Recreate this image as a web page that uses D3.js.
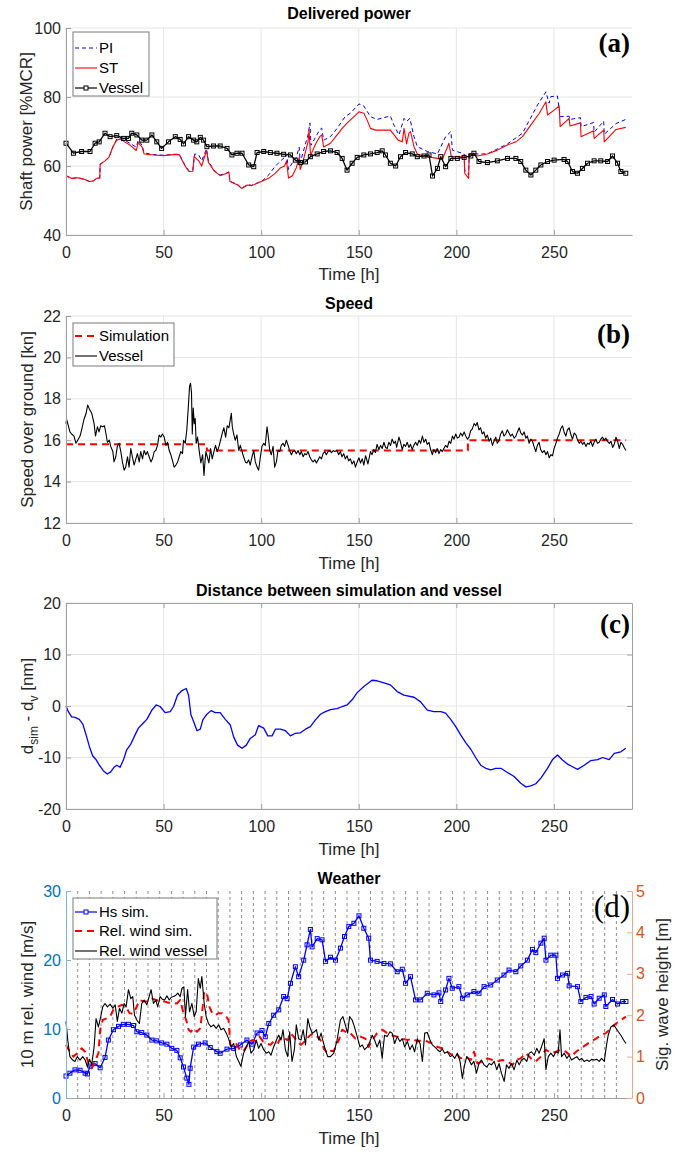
<!DOCTYPE html>
<meta charset="utf-8">
<style>
    body { margin: 0; background: #fff; }
    svg { font-family: "Liberation Sans", Arial, sans-serif; }
    .tick text { font-size: 16px; }
    .grid line { stroke: #e6e6e6; stroke-width: 1; }
    .title { font-weight: bold; font-size: 16px; fill: #000; text-anchor: middle; }
    .label { font-size: 17px; fill: #262626; text-anchor: middle; }
    .letter { font-family: "Liberation Serif", "DejaVu Serif", serif; font-size: 27px; font-weight: bold; text-anchor: end; }
    .legend text { font-size: 15px; fill: #000; }
</style>
<svg width="674" height="1153"></svg>
<script src="https://d3js.org/d3.v7.min.js"></script>
<script>

    // ---- data: [time h, value] ----
    var xTicks = [0, 50, 100, 150, 200, 250];

    var powerPI = [[0,57.2],[3,56.4],[6,56.6],[9,56.2],[12,55.5],[14,55.7],[16,56.5],[17.3,56.5],[17.5,60.5],[20,61.5],[22,62.5],[24,65.5],[26,67.8],[28,68],[30,67.5],[33,66.5],[36,65.5],[37,67.5],[39,66],[40,63.8],[45,63.3],[50,63.1],[55,63.4],[58,63.4],[61,60.2],[63,58.6],[65,59],[66,63.5],[68,63.2],[69.5,61.5],[72,65],[73,61.3],[76,58.7],[79,57.4],[82,57.9],[83.5,58.3],[84,55.6],[88,54.6],[90,53.6],[93,54.6],[95,54.4],[98,55.1],[101,55.9],[104,57.5],[107,59.8],[110,61.5],[112,62.5],[113,63.5],[114,59],[116,61],[118,62.5],[119.5,65.5],[120,61],[121.5,64],[124,69],[125,72.5],[125.5,66],[128,68.5],[130,70.5],[131,71],[132,67.5],[135.5,68.5],[138.9,70.9],[143,74.3],[145.7,75.3],[150.1,78],[152.6,77.4],[156,74.3],[159.4,73.5],[166.2,74.5],[168,71.9],[170.6,69],[173.2,73.8],[174.5,72.9],[176.2,73.8],[178.3,68.5],[180,65.6],[185.1,64.2],[190.3,63.5],[194.5,68.5],[197.2,70],[198,64.6],[204,63.5],[204.3,58.8],[206.3,57.4],[206.6,63.5],[215.9,63.5],[226.2,66.4],[233.9,69.5],[241.6,77.7],[245.9,81.5],[247.5,78.2],[248.4,80.1],[251.8,80.3],[253.2,74.3],[257.8,74.4],[258.2,73.5],[263.6,74],[263.9,71.4],[270.3,72.6],[270.6,69.8],[275.5,73],[275.8,69.2],[281.8,72.3],[286.8,73.5]];

    var powerST = [[0,57.2],[3,56.4],[6,56.6],[9,56.2],[12,55.5],[14,55.7],[16,56.5],[17.3,56.5],[17.5,60.5],[20,61.5],[22,62.5],[24,65.5],[26,67.5],[28,67.8],[30,67],[33,66],[36,64.5],[37,66.8],[39,65.5],[40,63.5],[45,63.2],[50,63],[55,63.3],[58,63.3],[61,60],[63,58.4],[65,58.5],[65.6,62.8],[68,61.5],[69.5,60],[72,64.5],[73,61],[76,58.5],[79,57.2],[82,57.8],[83.5,58.2],[84,55.5],[88,54.5],[90,53.5],[93,54.5],[95,54.3],[98,55],[101,55.7],[104,56.5],[107,57.8],[110,59.5],[112,60],[113,61.5],[114,56.5],[116,57.2],[118,59.5],[119.5,62.5],[120,59],[121.5,61.5],[124,67],[124.5,70.5],[125.3,63],[128,66.5],[130,68.5],[131,69],[132,65.5],[135.5,66.6],[138.9,69],[141.5,70.9],[144,72.4],[146.6,73.8],[150.1,75.7],[152.6,75.3],[154.3,73.3],[156,70.9],[158.6,70.4],[162.9,70.4],[166.2,70.4],[170.2,67.5],[172.3,67],[173.2,70.9],[174.5,66.4],[175.7,69.5],[176.5,70],[178.3,65.6],[180,63.5],[185.1,62.7],[190.3,62.2],[192.8,61.9],[194.5,64.2],[196.2,66.6],[197.4,62.7],[204,62.7],[204.3,57.9],[206.3,56.4],[206.6,63.5],[210.8,62.9],[215.9,63.5],[221,64.6],[226.2,66.1],[230.5,67],[233.9,68.5],[238.2,71.9],[242.5,75.3],[245.9,78.6],[246.7,74.8],[250.1,76.2],[252.7,77.4],[253.2,71.4],[257.8,73.8],[258.2,71.6],[263.6,72.5],[263.9,68.5],[270.3,70.2],[270.6,68],[275.5,70.4],[275.8,67],[281.8,70.6],[286.8,71.2]];

    var powerVessel = [[0,66.6],[3.8,63.7],[8,64.2],[12.3,64.2],[14.9,66.6],[17,67],[20,69.5],[22.6,68.5],[26,68.8],[29.4,68],[32,68],[33.7,69.5],[36.3,69],[38.8,67.5],[41.4,67.5],[44,69],[46.5,67],[49,65.1],[52.5,67],[56,68.5],[58.5,67.7],[60.2,66.4],[62.8,68.5],[65.4,67.5],[67,67],[68.8,68.3],[70.5,67.5],[72.2,65.6],[75.6,65.8],[79,65.8],[82.5,65.1],[85,63.2],[87.6,63.7],[90.2,63.7],[93.6,60.3],[96.2,59.8],[97.9,63.9],[101.3,64.2],[104.7,63.9],[108.1,63.7],[111.5,63.4],[115,63.2],[117.5,61.7],[120.1,61],[122.7,61.2],[125.2,62.7],[128.7,63.5],[132,64.2],[135.5,64.4],[138.9,63.9],[141.5,62.2],[144,58.8],[146.6,60.8],[149.2,62.5],[152.6,63.2],[156,63.5],[159.4,63.9],[162,64.4],[163.7,63.2],[166.2,60.8],[168.9,60],[171.4,62.7],[174,63.9],[177.4,63.5],[180,62.7],[183.4,62.9],[186,63.2],[187.8,57.1],[190.3,59.3],[192,62.7],[194.5,59.8],[197.2,62.2],[200.5,62.2],[204,62.5],[207.4,62.9],[209,63.7],[211.6,61.3],[215.9,61],[221,61.5],[226.2,62.2],[230.5,62.2],[233,61.3],[235.6,58.8],[238.2,57.4],[240.7,58.8],[243.3,60.3],[246.7,61.3],[250.1,61.7],[255.2,61.9],[257,61.3],[259.5,58.4],[262.1,57.9],[264.6,59.3],[267.2,60.8],[270.6,61.5],[274,61.5],[277.5,61.3],[280,62.9],[282.6,60.8],[284.3,58.4],[286.8,57.9]];

    var speedSim = [[0,15.8],[72.2,15.8],[72.2,15.5],[205.9,15.5],[205.9,16],[287,16]];

    var speedVessel = [[0,16.8],[0.3,17],[1.2,16.7],[2,16.4],[2.9,16.3],[4.1,16.2],[5.1,15.85],[6,16],[7.2,16.2],[8,16.5],[9.2,17],[10.3,17.3],[11.1,17.7],[12,17.5],[13.2,17.3],[14.4,16.8],[15.1,16.2],[16.1,16.65],[16.9,16.4],[17.8,16.7],[18.8,16.65],[19.7,16.7],[20.5,16.3],[21.2,15.9],[22.2,16],[22.9,15.7],[24,15.45],[24.6,14.95],[25.5,15.2],[26.3,15.7],[27.2,15.85],[28.1,15.45],[28.9,14.95],[29.8,14.55],[30.6,14.7],[31.5,15.2],[32.3,14.7],[33.2,15.6],[34,15.2],[34.9,14.8],[35.8,15.1],[36.6,15.35],[37.5,14.95],[38.3,15.45],[39.2,15.1],[40,15.5],[40.9,15.3],[41.7,15.45],[42.6,15.2],[43.5,14.95],[44.3,15.1],[45.2,15.45],[46,15.5],[46.9,15.75],[47.7,16.25],[48.6,16.15],[49.4,16.3],[50.3,16.15],[51.2,15.75],[52,15.9],[52.9,15.5],[53.7,15.3],[54.6,15],[55.4,14.7],[56.3,14.8],[57.2,14.95],[58,15.2],[58.8,15.45],[59.7,15.35],[60.2,16],[61.1,15.85],[61.9,16.5],[62.8,17.8],[63.3,18.6],[63.8,18.75],[64.3,18.3],[64.7,16.3],[65.2,17.55],[65.7,16.8],[66.2,17.05],[66.7,15.85],[67.4,16.15],[68.3,15.45],[69.1,14.9],[70,15.3],[70.7,14.3],[71.2,14.95],[71.7,15.45],[72.4,15.2],[73.2,14.9],[74.1,15.6],[74.9,15.1],[75.8,15.45],[76.6,15.75],[77.5,15.45],[78.4,15.7],[79.2,16],[80.1,16.35],[80.9,16.6],[81.8,16.15],[82.6,16.7],[83.5,16.6],[84,16.9],[84.7,17.3],[85.2,16.65],[85.9,16.3],[86.7,16],[87.6,16.25],[88.5,15.5],[89.3,15.75],[90.2,15.45],[91,15.2],[91.9,14.95],[92.7,14.9],[93.6,15.05],[94.4,14.8],[95.3,15.2],[96.2,15.5],[97,14.95],[97.9,14.7],[98.7,14.55],[99.6,15.2],[100.4,15.7],[101.3,15.85],[102.1,15.75],[103,16.65],[103.5,16.3],[104.4,15.5],[105.2,15.3],[106.1,15.7],[106.9,14.7],[107.8,14.95],[108.6,15.5],[109.5,15.45],[110.3,15.75],[111.2,15.85],[112,15.7],[112.9,16],[113.8,15.75],[114.6,15.5],[115.5,15.3],[116.3,15.45],[117.2,15.5],[118,15.35],[118.9,15.5],[119.8,15.3],[120.6,15.45],[121.5,15.2],[122.3,15.35],[123.2,15.3],[124,15.45],[124.9,15.2],[125.7,15.05],[126.6,14.95],[127.5,15.05],[128.3,14.9],[129.2,15.05],[130,15.2],[130.9,15.1],[131.7,15.35],[132.6,15.45],[133.4,15.3],[134.3,15.45],[135.2,15.5],[136,15.4],[136.9,15.5],[137.7,15.45],[138.9,15.5],[139.7,15.3],[140.6,15.45],[141.4,15.2],[142.3,15.35],[143.1,15.1],[144,15.25],[144.8,15],[145.7,15.1],[146.6,14.85],[147.5,15],[148.3,14.7],[149.2,14.95],[150.1,15.15],[150.9,14.9],[151.8,15.1],[152.6,14.8],[153.5,15.25],[154.7,14.85],[156,15.45],[156.8,15.3],[157.7,15.55],[158.5,15.4],[159.4,15.8],[160.3,15.55],[161.2,15.75],[162,15.6],[162.9,15.9],[163.7,15.65],[164.6,15.6],[165.4,15.9],[166.3,15.75],[167.1,16.05],[168,15.85],[168.8,15.95],[169.4,15.65],[170.6,16.15],[171.4,15.9],[172.3,15.55],[173.1,15.8],[174,15.7],[174.8,15.9],[175.7,15.65],[176.5,15.8],[177.4,15.55],[178.2,15.75],[179.1,15.9],[180,15.75],[180.9,16],[181.7,15.85],[182.6,16.2],[183.4,15.9],[184.3,16.05],[185.1,15.8],[186,15.9],[186.8,15.55],[187.7,15.3],[188.5,15.55],[189.4,15.4],[190.2,15.6],[191.1,15.35],[192,15.55],[192.8,15.45],[193.6,15.6],[194.5,15.75],[195.4,15.65],[196.3,15.95],[197.1,15.85],[198,16.2],[198.8,16.05],[199.7,16.3],[200.5,16.1],[201.4,16.15],[202.2,16.35],[203.1,16.2],[204,16.4],[204.8,16.2],[205.7,16.05],[206.5,16.15],[207.3,16.45],[208.2,16.55],[209.1,16.8],[209.9,16.7],[210.7,16.85],[211.6,16.5],[212.4,16.6],[213.3,16.3],[214.1,16.4],[215,16.1],[215.9,16.25],[216.8,15.95],[217.6,16.1],[218.5,15.75],[219.3,15.95],[220.2,16.15],[221,15.85],[221.9,16],[222.7,16.3],[223.6,16.45],[224.4,16.2],[225.3,16.3],[226.1,16.5],[227,16.35],[227.8,16.2],[228.7,16.3],[229.6,16.1],[230.5,16.2],[231.3,16.4],[232.2,16.6],[233,16.35],[233.9,16.25],[234.7,16.4],[235.6,16.1],[236.4,16.2],[237.3,15.85],[238.1,16.05],[239,15.95],[239.8,15.7],[240.7,15.45],[241.5,15.75],[242.4,15.9],[243.2,15.55],[244.1,15.4],[245,15.5],[245.9,15.3],[246.7,15.45],[247.6,15.15],[248.4,15.3],[249.3,15.25],[250.1,15.6],[251,15.85],[251.8,16.1],[252.7,16.3],[253.5,16.55],[254.4,16.7],[255.2,16.4],[256.1,16.2],[256.9,16.5],[257.8,16.6],[258.6,16.3],[259.5,16.05],[260.4,16.35],[261.3,16.25],[262.1,16],[263,15.85],[263.8,15.95],[264.7,15.8],[265.5,15.9],[266.4,15.7],[267.2,15.85],[268.1,15.8],[268.9,15.95],[269.8,15.7],[270.6,15.9],[271.5,16.05],[272.3,15.85],[273.2,15.9],[274,16.05],[274.9,16.15],[275.7,16],[276.6,16.1],[277.4,15.95],[278.4,15.85],[279.2,15.95],[280.1,15.65],[280.9,15.8],[281.8,16.15],[282.6,15.95],[283.5,15.6],[284.3,15.9],[285.2,15.8],[286,15.65],[286.9,15.5]];

    var distance = [[0,0],[1.2,-1.1],[2.9,-2.1],[4.6,-2.2],[6.8,-2.6],[8.6,-3.5],[10.3,-5.6],[12,-7.9],[13.7,-9.7],[15.4,-10.4],[17.1,-11.5],[19.2,-12.6],[21.2,-13.2],[22.9,-12.8],[24.6,-11.9],[26,-11.5],[27.7,-11.9],[29.4,-10.5],[31.1,-8.5],[33.2,-7.4],[34.9,-6],[37.1,-4.3],[39.4,-3.4],[41.4,-2.6],[44,-0.8],[46.2,0.2],[48.2,-0.1],[50.8,-1.3],[53.4,-1.1],[55.1,-0.1],[57.1,2.1],[59.4,3],[61.6,3.4],[62.8,2.1],[64,-1.7],[65.4,-3],[67.1,-4.8],[68.8,-4.5],[70.1,-2.7],[72.2,-1.6],[74.3,-0.9],[76.5,-1.3],[79,-1.3],[81.6,-2.6],[84.2,-3.7],[85.9,-6],[87.9,-7.6],[90.2,-8.2],[92.4,-7.6],[94.4,-6.3],[97,-5.6],[98.7,-3.8],[101.3,-4.3],[103.4,-5.8],[105.6,-5.8],[107.3,-4.5],[109.8,-4.5],[112.4,-4.8],[115,-5.8],[117.5,-5.3],[120.1,-5.2],[122.7,-4.5],[125.2,-4],[127.8,-2.7],[130.4,-1.6],[132.9,-1.1],[135.5,-0.7],[138.9,-0.5],[141.5,-0.1],[144,0.2],[146.6,1.2],[149.2,2.6],[152.6,3.8],[155.1,4.5],[156.8,5],[159.4,4.9],[162.9,4.5],[166.2,4.1],[169.7,2.8],[173.1,2.1],[178.3,1.7],[181.7,0.8],[185.1,-0.8],[188.5,-1.1],[192,-1.1],[194.5,-1.4],[197.1,-2.6],[199.7,-4],[202.2,-5.6],[204.8,-7.1],[207.4,-8.4],[209.9,-10],[212.5,-11.5],[215.1,-12.1],[217.6,-12.4],[220.2,-12.1],[222.8,-12.1],[226.2,-12.9],[229.6,-13.7],[233,-15],[235.6,-15.7],[238.2,-15.5],[240.7,-15.1],[243.3,-14],[246.7,-12.1],[249.3,-10.4],[251.8,-9.5],[254.4,-10.5],[257,-11.3],[259.5,-11.8],[262.1,-12.3],[265.5,-11.5],[268.9,-10.6],[272.4,-10.4],[274.9,-10],[278.3,-10.4],[280.9,-9.2],[284.3,-8.9],[286.8,-8.2]];

    var hsSim = [[0,0.53],[2,0.6],[4.6,0.68],[7.2,0.67],[9.8,0.6],[11,0.58],[12.3,0.77],[14.9,0.83],[17.5,0.73],[20,0.98],[21.7,1.4],[24.3,1.65],[26.9,1.73],[29.4,1.78],[32,1.78],[34.6,1.75],[36.3,1.6],[38.8,1.58],[41.4,1.52],[44,1.4],[46.5,1.38],[49,1.33],[51.7,1.3],[54.2,1.2],[56.8,1.15],[58.5,0.97],[60.2,0.75],[61.9,0.48],[63,0.33],[63.6,0.72],[65.4,1.23],[67.9,1.3],[71.3,1.33],[73.9,1.22],[77.3,1.12],[79,1.08],[82.5,1.18],[85.9,1.2],[89.3,1.28],[92.7,1.4],[95.3,1.3],[97.9,1.57],[100.4,1.63],[102.1,1.48],[103.9,1.8],[106.4,2],[109,2.13],[111.5,2.45],[113.3,2.4],[115,2.77],[117.5,3.17],[119.2,2.93],[121.8,3.33],[123.5,3.7],[125.2,4.07],[126.1,3.65],[128.7,3.85],[131.2,3.82],[133,3.3],[135.5,3.4],[138.1,3.33],[140.6,3.62],[142.7,3.9],[144.9,4.14],[147.5,4.22],[150.1,4.4],[152.6,4.1],[155.1,3.86],[156,3.33],[159.4,3.3],[162.9,3.25],[166.2,3.24],[169.7,3.05],[172.3,3.11],[174,2.77],[176.5,2.93],[179.1,2.37],[181.7,2.37],[185.1,2.53],[188.5,2.49],[191.1,2.54],[192,2.33],[194.5,2.61],[196.2,2.89],[197.9,2.65],[201.3,2.69],[203.1,2.41],[205.6,2.49],[209,2.57],[211.6,2.53],[214.2,2.69],[217.6,2.73],[221,2.85],[224.4,2.97],[227,3.09],[230.5,3.05],[233,3.19],[236.4,3.33],[239,3.59],[240.7,3.51],[243.3,3.74],[245,3.86],[245.9,3.33],[248.4,3.45],[251,3.45],[251.8,2.89],[254.4,2.97],[257,3.01],[257.8,2.71],[262.1,2.69],[263.8,2.33],[266.4,2.43],[269,2.45],[270.6,2.27],[273.2,2.41],[275.8,2.49],[276.6,2.21],[280,2.38],[282.6,2.27],[285.2,2.33],[286.9,2.33]];

    var windSim = [[0,7.7],[2,6.7],[3.8,6],[5.8,6.5],[8,7.2],[9.8,6.7],[11.5,5],[13.2,4.3],[14.9,5.3],[16.6,6.5],[17.5,9.9],[18.8,11.3],[20.5,11.5],[22.6,11.8],[24.3,12.8],[26.3,13.2],[28.6,13.5],[30.8,13.2],[32.5,12.3],[34.2,12.2],[35.9,13],[37.6,14.2],[39.7,14],[41.7,14],[44,14.4],[46.2,14.2],[48.2,14],[50.3,14],[52.5,13.8],[54.7,13.8],[56.8,13.7],[58.5,14.2],[60.2,12.3],[61.6,11.3],[62.8,9.9],[64,9.6],[65.4,10.1],[67.1,9.6],[68.8,10.1],[69.6,12],[70.8,15.4],[72.2,15.2],[73.5,13.2],[74.9,12.3],[76.5,12],[78.2,12.3],[79.9,12.3],[81.6,12],[83.3,11.3],[84.2,7.7],[85.6,7.4],[87.3,7.8],[89,7],[90.7,6.7],[92.4,7.4],[94.1,8.2],[95.8,8.4],[97.5,8.2],[99.2,8.9],[100.9,8.2],[102.6,7.9],[104.7,7.7],[106.4,8.2],[108.5,7.9],[110.2,8.9],[111.9,8.6],[113.6,8.4],[115,9.4],[116.7,8.9],[118.4,8.2],[120.4,7.7],[122.2,8.2],[124.4,8.9],[126.6,9.4],[128.7,8.9],[130.4,8.4],[132.1,7.2],[133.8,6.5],[135.5,6.8],[137.2,6.8],[138.9,7.9],[139.8,8.4],[141.5,9.9],[143.1,9.6],[145.7,9.4],[148.3,8.6],[150.8,8.9],[153.4,8.6],[155.1,7.4],[156.9,8.4],[159.4,9.4],[162,9.9],[164.6,9.4],[167.1,9.1],[169.7,8.9],[172.3,8.6],[174.9,8.4],[177.4,8.6],[180,8.2],[182.6,8.4],[185.1,8.2],[187.7,7.9],[190.3,7.4],[192.8,7.2],[195.4,6.7],[198,6.2],[199.7,6.5],[202.2,5.75],[204.8,6],[207.4,5.5],[209,6.7],[210.8,5],[213.3,5.3],[215.9,5.75],[218.5,5.5],[221,5.3],[223.6,5.5],[226.2,5.3],[228.8,4.8],[230.5,5.5],[233,5.75],[235.6,6.5],[238.2,5.75],[240.7,5.3],[243.3,6],[245.9,7],[248.4,6.5],[251,6.7],[253.6,7],[256.2,6.7],[258.7,6],[261.3,6.7],[263.8,7.2],[266.4,7.7],[269,8.2],[271.5,8.6],[274.1,9.1],[276.6,9.4],[279.2,10.1],[281.8,10.8],[284.3,11.3],[286.9,11.8]];

    var windVessel = [[0,11.1],[0.9,8.4],[2,6],[3.4,5.5],[4.6,5.3],[5.8,6],[7.2,5.5],[8.6,6],[9.8,5.5],[11,4.5],[12,5.6],[13.2,4.9],[14.4,7.4],[15.4,11.5],[16.6,10.3],[17.8,11.8],[18.8,13.2],[20,13.7],[21.2,13.2],[22.6,13.6],[24,13],[25.2,13.5],[26.3,11.1],[27.4,13],[28.6,12.3],[29.8,13.7],[30.8,13.2],[32,15.7],[33.2,14.4],[34.2,14.7],[35.1,12],[36.3,11.3],[37.6,10.8],[38.8,13.7],[40,14.2],[41.4,13.5],[42.6,14.7],[43.6,15.7],[44.8,13.7],[46,14.2],[47,13.2],[48.2,14.7],[49.4,14.3],[50.5,14.2],[51.7,14.8],[52.9,14.2],[53.9,14.6],[55.1,14.7],[56.3,14.9],[57.3,15.2],[58.5,14.7],[59.4,15.9],[60.4,16.1],[61.2,11.8],[62.3,15.7],[63.3,12.5],[64.5,13.7],[65.7,11.8],[66.7,12.5],[67.8,17.3],[68.8,15.9],[69.6,17.6],[70.8,13.7],[71.8,11.8],[73,10.8],[74.3,10.3],[75.6,10.6],[77,10.1],[78.2,10.6],[79.4,9.9],[80.8,10.1],[82.1,9.4],[83.3,8.6],[84.5,7.4],[85.9,7.9],[87.3,6],[88.5,5.3],[89.6,4.6],[91,6.5],[92.4,7.4],[93.6,8.2],[94.8,6.5],[96.2,7],[97.5,8.4],[98.7,7.2],[99.9,7.9],[101.3,7],[102.6,6.5],[103.9,6.7],[105,6.2],[106.4,7.4],[107.8,8.4],[109,9.1],[110.2,8.4],[111.2,9.9],[112.4,7],[113.6,6],[114.6,9.6],[115.8,5.3],[117,7],[118,10.6],[119.2,8.6],[120.4,8.4],[121.5,9.9],[122.7,7.7],[123.9,11.5],[124.9,10.3],[126.1,9.4],[127.3,9.6],[128.3,9.9],[129.5,8.4],[130.7,9.4],[131.7,8.2],[132.9,7],[134.1,6],[135.5,6],[137.2,6.5],[138.9,8.4],[140.6,11.3],[141.9,11.8],[143.1,10.6],[144.3,9.4],[145.3,11.8],[146.6,11.3],[147.8,10.3],[149.2,8.9],[150.6,7.4],[151.8,7.7],[153,7],[154.4,7.4],[155.7,8.2],[156.9,9.1],[158.1,8.4],[159.4,7.4],[160.8,8.4],[162,5.75],[163.2,9.1],[164.6,8.9],[166,9.6],[167.1,9.4],[168.4,7.9],[169.7,8.9],[171.1,8.2],[172.3,8.6],[173.5,7.4],[174.9,8.2],[176.2,7],[177.4,7.7],[178.6,6.7],[180,8.6],[181.4,7.9],[182.6,5.3],[183.8,9.4],[185.1,9.5],[186.5,8.4],[187.7,7.7],[188.9,7.4],[190.3,7],[191.6,6.7],[192.8,7.1],[194,6.5],[195.4,6.7],[196.8,6],[198,6.2],[199.2,5.75],[200.5,6.5],[201.9,5.3],[203.1,2.85],[204,4.5],[205.3,6],[206.5,5.5],[207.7,4.8],[209,5.3],[210.3,3.6],[211.6,5],[212.8,5.5],[214.2,4.8],[215.6,4.5],[216.8,5],[218,4.8],[219.4,5.3],[220.7,4.1],[221.9,5],[223.1,3.6],[224.5,2.4],[225.7,4.8],[227,4.3],[228.2,5],[229.6,4.1],[231,5.5],[232.2,4.8],[233.4,5.5],[234.7,5.75],[236.1,5.3],[237.3,6.5],[238.5,6.7],[239.9,6.2],[241.2,7.2],[242.4,6.5],[243.6,7.4],[245,8.6],[245.9,4.1],[247.1,6],[248.4,6.5],[249.8,6],[251,6.7],[252.2,6.5],[253.1,9.9],[253.9,6],[255.3,6.5],[256.6,5.75],[257.8,6.2],[259,5.5],[260.4,5.75],[261.8,6],[263,5.5],[264.2,5.75],[265.5,5.3],[266.9,5.5],[268.1,5.3],[269.3,5.6],[270.6,5.5],[272,5.6],[273.2,5.3],[274.4,5.75],[275.8,5.3],[276.8,7.4],[277.8,9.1],[279.2,10.3],[280.6,10.6],[281.8,10.1],[283,9.6],[284.3,9.1],[285.7,8.4],[286.9,7.9]];

    var weatherSteps = [6,12,18,24,30,36,42,48,54,60,66,72,78,84,90,96,102,108,114,120,126,132,138,144,150,156,162,168,174,180,186,192,198,204,210,216,222,228,234,240,246,252,258,264,270,276,282];

    // ---- layout ----
    var svg = d3.select("svg");
    var x = d3.scaleLinear().domain([0, 290]).range([66, 632]);
    var axisGrey = "#a0a0a0", textDark = "#262626";
    var blueAxis = "#0072BD", orangeAxis = "#D95319";
    var plain = function (d) { return String(d); };   // hyphen minus, no decimals

    function bottomAxis(bottom) {
        var g = svg.append("g")
            .attr("transform", "translate(0," + bottom + ")")
            .call(d3.axisBottom(x).tickValues(xTicks).tickFormat(plain).tickSizeInner(-5).tickSizeOuter(0).tickPadding(12));
        g.selectAll(".domain, .tick line").attr("stroke", axisGrey);
        g.selectAll("text").attr("fill", textDark);
        return g;
    }

    function leftAxis(y, ticks, color, lineColor) {
        var g = svg.append("g")
            .attr("transform", "translate(66,0)")
            .call(d3.axisLeft(y).tickValues(ticks).tickFormat(plain).tickSizeInner(-5).tickSizeOuter(0).tickPadding(5));
        g.selectAll(".domain, .tick line").attr("stroke", lineColor || axisGrey);
        g.selectAll("text").attr("fill", color || textDark);
        return g;
    }

    function grid(y, ticks, top, bottom) {
        var g = svg.append("g").attr("class", "grid");
        g.selectAll(".gx").data(xTicks).enter().append("line")
            .attr("x1", function (d) { return x(d); }).attr("x2", function (d) { return x(d); })
            .attr("y1", top).attr("y2", bottom);
        g.selectAll(".gy").data(ticks).enter().append("line")
            .attr("x1", x.range()[0]).attr("x2", x.range()[1])
            .attr("y1", function (d) { return y(d); }).attr("y2", function (d) { return y(d); });
    }

    function drawLine(data, y, color, width, dash) {
        var line = d3.line()
            .x(function (d) { return x(d[0]); })
            .y(function (d) { return y(d[1]); });
        svg.append("path")
            .datum(data)
            .attr("d", line)
            .attr("fill", "none")
            .attr("stroke", color)
            .attr("stroke-width", width)
            .attr("stroke-dasharray", dash || null)
            .attr("stroke-linejoin", "round");
    }

    function drawSquares(data, y, color) {
        svg.append("g").selectAll("rect")
            .data(data)
            .enter().append("rect")
            .attr("x", function (d) { return x(d[0]) - 2; })
            .attr("y", function (d) { return y(d[1]) - 2; })
            .attr("width", 4).attr("height", 4)
            .attr("fill", "none")
            .attr("stroke", color)
            .attr("stroke-width", 1);
    }

    function legend(x0, y0, w, h, items) {
        var g = svg.append("g").attr("class", "legend");
        g.append("rect").attr("x", x0).attr("y", y0).attr("width", w).attr("height", h)
            .attr("fill", "#fff").attr("stroke", "#7a7a7a").attr("stroke-width", 1);
        items.forEach(function (it) {
            var yy = y0 + it.dy;
            g.append("line").attr("x1", x0 + 2).attr("x2", x0 + 24).attr("y1", yy).attr("y2", yy)
                .attr("stroke", it.color).attr("stroke-width", it.width)
                .attr("stroke-dasharray", it.dash || null);
            if (it.marker) {
                g.append("rect").attr("x", x0 + 11).attr("y", yy - 2).attr("width", 4).attr("height", 4)
                    .attr("fill", "#fff").attr("stroke", it.color);
            }
            g.append("text").attr("x", x0 + 26).attr("y", yy).attr("dy", "0.35em").text(it.label);
        });
    }

    function title(text, yb) {
        svg.append("text").attr("class", "title").attr("x", 349).attr("y", yb).text(text);
    }

    function xLabel(yb) {
        svg.append("text").attr("class", "label").attr("x", 349).attr("y", yb).text("Time [h]");
    }

    function yLabel(text, xb, yc, color) {
        return svg.append("text").attr("class", "label")
            .attr("transform", "translate(" + xb + "," + yc + ") rotate(-90)")
            .attr("fill", color || textDark)
            .text(text);
    }

    function letter(text, yb, size, weight) {
        svg.append("text").attr("class", "letter").attr("x", 630).attr("y", yb)
            .style("font-size", size + "px").style("font-weight", weight).text(text);
    }

    // ---- (a) Delivered power ----
    var yA = d3.scaleLinear().domain([40, 100]).range([235, 28]);
    grid(yA, [40, 60, 80, 100], 28, 235);
    drawLine(powerPI, yA, "#0000ff", 1, "4,3");
    drawLine(powerST, yA, "#ff0000", 1.1);
    drawLine(powerVessel, yA, "#000", 1.3);
    drawSquares(powerVessel, yA, "#000");
    bottomAxis(235);
    leftAxis(yA, [40, 60, 80, 100]);
    title("Delivered power", 19);
    xLabel(280);
    yLabel("Shaft power [%MCR]", 32, 131.5);
    letter("(a)", 52, 27, "bold");
    legend(73, 32, 76, 64, [
        {label: "PI", color: "#0000ff", width: 1, dash: "4,3", dy: 16},
        {label: "ST", color: "#ff0000", width: 1.1, dy: 36},
        {label: "Vessel", color: "#000", width: 1.2, marker: true, dy: 56}
    ]);

    // ---- (b) Speed ----
    var yB = d3.scaleLinear().domain([12, 22]).range([523, 316]);
    grid(yB, [12, 14, 16, 18, 20, 22], 316, 523);
    drawLine(speedSim, yB, "#ff0000", 2, "7,5");
    drawLine(speedVessel, yB, "#000", 1.1);
    bottomAxis(523);
    leftAxis(yB, [12, 14, 16, 18, 20, 22]);
    title("Speed", 309);
    xLabel(569);
    yLabel("Speed over ground [kn]", 33, 419.5);
    letter("(b)", 343, 27, "bold");
    legend(73, 323, 101, 43, [
        {label: "Simulation", color: "#ff0000", width: 2, dash: "7,5", dy: 13},
        {label: "Vessel", color: "#000", width: 1.1, dy: 33}
    ]);

    // ---- (c) Distance ----
    var yC = d3.scaleLinear().domain([-20, 20]).range([809, 603]);
    grid(yC, [-20, -10, 0, 10, 20], 603, 809);
    drawLine(distance, yC, "#0000ff", 1.3);
    var boxTop = svg.append("g").attr("transform", "translate(0,603)")
        .call(d3.axisTop(x).tickValues(xTicks).tickSizeInner(-5).tickSizeOuter(0).tickFormat(""));
    var boxRight = svg.append("g").attr("transform", "translate(632,0)")
        .call(d3.axisRight(yC).tickValues([-20, -10, 0, 10, 20]).tickSizeInner(-5).tickSizeOuter(0).tickFormat(""));
    boxTop.selectAll(".domain, .tick line").attr("stroke", axisGrey);
    boxRight.selectAll(".domain, .tick line").attr("stroke", axisGrey);
    bottomAxis(809);
    leftAxis(yC, [-20, -10, 0, 10, 20]);
    title("Distance between simulation and vessel", 596);
    xLabel(855);
    var lc = yLabel("", 33, 706);
    lc.append("tspan").text("d");
    lc.append("tspan").attr("dy", 5).style("font-size", "12px").text("sim");
    lc.append("tspan").attr("dy", -5).text(" - d");
    lc.append("tspan").attr("dy", 5).style("font-size", "12px").text("v");
    lc.append("tspan").attr("dy", -5).text(" [nm]");
    letter("(c)", 633, 27, "bold");

    // ---- (d) Weather ----
    var yD = d3.scaleLinear().domain([0, 30]).range([1098, 891]);
    var yDr = d3.scaleLinear().domain([0, 5]).range([1098, 891]);
    svg.append("g").selectAll("line")
        .data(weatherSteps)
        .enter().append("line")
        .attr("x1", function (d) { return x(d); }).attr("x2", function (d) { return x(d); })
        .attr("y1", 891).attr("y2", 1098)
        .attr("stroke", "#707070").attr("stroke-width", 0.8).attr("stroke-dasharray", "3,3");
    drawLine(hsSim, yDr, "#0000ff", 1.3);
    drawSquares(hsSim, yDr, "#0000ff");
    drawLine(windSim, yD, "#ff0000", 2, "7,5");
    drawLine(windVessel, yD, "#000", 1.1);
    bottomAxis(1098);
    leftAxis(yD, [0, 10, 20, 30], blueAxis, "#7fb4dc");
    var rAx = svg.append("g").attr("transform", "translate(632,0)")
        .call(d3.axisRight(yDr).tickValues([0, 1, 2, 3, 4, 5]).tickFormat(plain).tickSizeInner(-5).tickSizeOuter(0).tickPadding(4));
    rAx.selectAll(".domain, .tick line").attr("stroke", "#ebaa8c");
    rAx.selectAll("text").attr("fill", orangeAxis);
    title("Weather", 884);
    xLabel(1144);
    yLabel("10 m rel. wind [m/s]", 33, 994.5, blueAxis);
    yLabel("Sig. wave height [m]", 668, 994.5, orangeAxis);
    letter("(d)", 917, 31, "normal");
    legend(73, 898, 144, 61, [
        {label: "Hs sim.", color: "#0000ff", width: 1.2, marker: true, dy: 14},
        {label: "Rel. wind sim.", color: "#ff0000", width: 2, dash: "7,5", dy: 33},
        {label: "Rel. wind vessel", color: "#000", width: 1.1, dy: 53}
    ]);

</script>
